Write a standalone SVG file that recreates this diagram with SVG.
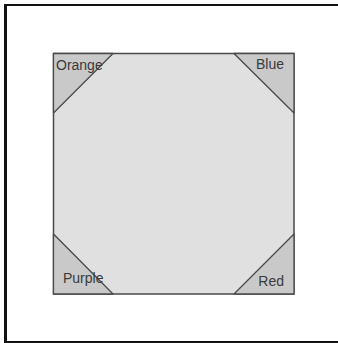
<svg xmlns="http://www.w3.org/2000/svg" width="338" height="343" viewBox="0 0 338 343">
<style>
.sq{fill:#e0e0e0;stroke:#4a4a4a;stroke-width:1.5}
.tri{fill:#c9c9c9;stroke:#4a4a4a;stroke-width:1.3;stroke-linejoin:round}
.lbl{font-family:"Liberation Sans",Arial,sans-serif;font-size:14px;fill:#3a3a3a}
</style>
<rect width="338" height="343" fill="#ffffff"/>
<g id="frame" fill="none" stroke="#111111">
<line x1="5.5" y1="4" x2="5.5" y2="343" stroke-width="3"/>
<line x1="4" y1="5" x2="338" y2="5" stroke-width="2"/>
<line x1="4" y1="342" x2="338" y2="342" stroke-width="2"/>
</g>
<g id="square"><rect class="sq" x="53.5" y="53.5" width="240.5" height="240.5"/></g>
<g id="orange"><polygon class="tri" points="53.5,53.5 113,53.5 53.5,113"/><text class="lbl" x="56" y="69.5">Orange</text></g>
<g id="blue"><polygon class="tri" points="234,53.5 294,53.5 294,113"/><text class="lbl" x="284" y="68.5" text-anchor="end">Blue</text></g>
<g id="purple"><polygon class="tri" points="53.5,234 53.5,294 113,294"/><text class="lbl" x="63" y="282.5">Purple</text></g>
<g id="red"><polygon class="tri" points="294,234 294,294 234,294"/><text class="lbl" x="284" y="285.5" text-anchor="end">Red</text></g>
</svg>
